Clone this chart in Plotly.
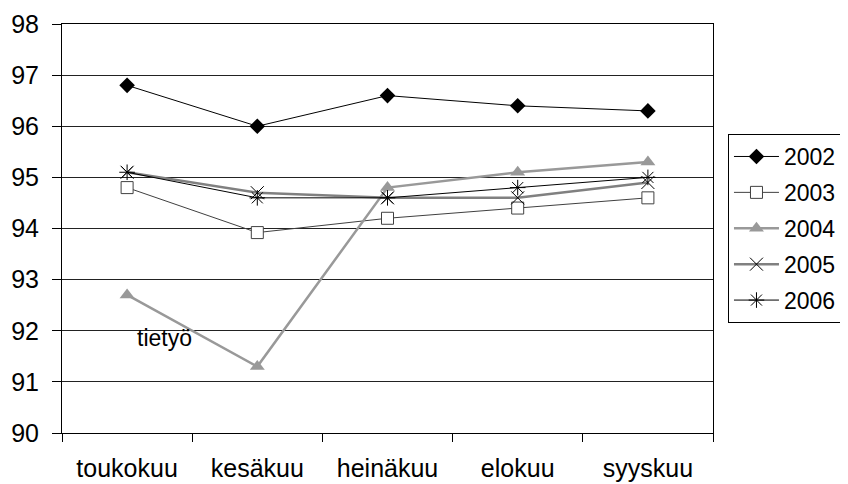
import plotly.graph_objects as go

months = ["toukokuu", "kesäkuu", "heinäkuu", "elokuu", "syyskuu"]
y2002 = [96.8, 96.0, 96.6, 96.4, 96.3]
y2003 = [94.8, 93.92, 94.2, 94.4, 94.6]
y2004 = [92.7, 91.3, 94.8, 95.1, 95.3]
y2005 = [95.1, 94.7, 94.6, 94.6, 94.9]
y2006 = [95.1, 94.6, 94.6, 94.8, 95.0]
yticks = [90, 91, 92, 93, 94, 95, 96, 97, 98]

fig = go.Figure()
fig.add_trace(go.Scatter(x=months, y=y2002, name="2002", mode="lines+markers", legendgroup="a",
                         line=dict(color="black", width=1),
                         marker=dict(symbol="diamond", size=12, color="black")))
fig.add_trace(go.Scatter(x=months, y=y2003, name="2003", mode="lines+markers", legendgroup="b",
                         line=dict(color="#404040", width=1),
                         marker=dict(symbol="square", size=12, color="white",
                                     line=dict(color="#404040", width=1))))
fig.add_trace(go.Scatter(x=months, y=y2004, name="2004", mode="lines+markers", legendgroup="c",
                         line=dict(color="#999999", width=2.5),
                         marker=dict(symbol="triangle-up", size=13, color="#999999")))
fig.add_trace(go.Scatter(x=months, y=y2005, name="2005", mode="lines+markers", legendgroup="d",
                         line=dict(color="#808080", width=2.5),
                         marker=dict(symbol="x-thin-open", size=13, color="black",
                                     line=dict(color="black", width=1))))
fig.add_trace(go.Scatter(x=months, y=y2006, name="2006", mode="lines+markers", legendgroup="e",
                         line=dict(color="black", width=1),
                         marker=dict(symbol="asterisk-open", size=13, color="black",
                                     line=dict(color="black", width=1))))

fig.add_annotation(x=0.29, y=91.86, xref="x", yref="y", text="tietyö",
                   showarrow=False, font=dict(size=23, color="black"))

fig.update_layout(
    width=840, height=476,
    margin=dict(l=54, r=135, t=16, b=51, autoexpand=False),
    paper_bgcolor="white", plot_bgcolor="white",
    font=dict(family="Liberation Sans, Arial", size=23, color="black"),
    showlegend=True,
    legend=dict(x=1.023, y=0.731, xanchor="left", yanchor="top",
                bordercolor="black", borderwidth=1, bgcolor="white",
                font=dict(size=23), tracegroupgap=3, itemwidth=45),
)
fig.update_xaxes(type="category", range=[-0.5, 4.5], tickson="boundaries",
                 ticks="outside", ticklen=8, tickcolor="black", automargin=False,
                 showline=True, linecolor="black", linewidth=1, mirror=True,
                 showgrid=False, tickfont=dict(size=25), ticklabelstandoff=13)
fig.update_yaxes(range=[90, 98], tickvals=yticks, ticks="outside", ticklen=9,
                 tickcolor="black", showline=True, linecolor="black", linewidth=1,
                 mirror=True, showgrid=True, gridcolor="#222222", gridwidth=1,
                 automargin=False,
                 zeroline=False, tickfont=dict(size=25), ticklabelstandoff=8)

fig.write_html("out.html")
